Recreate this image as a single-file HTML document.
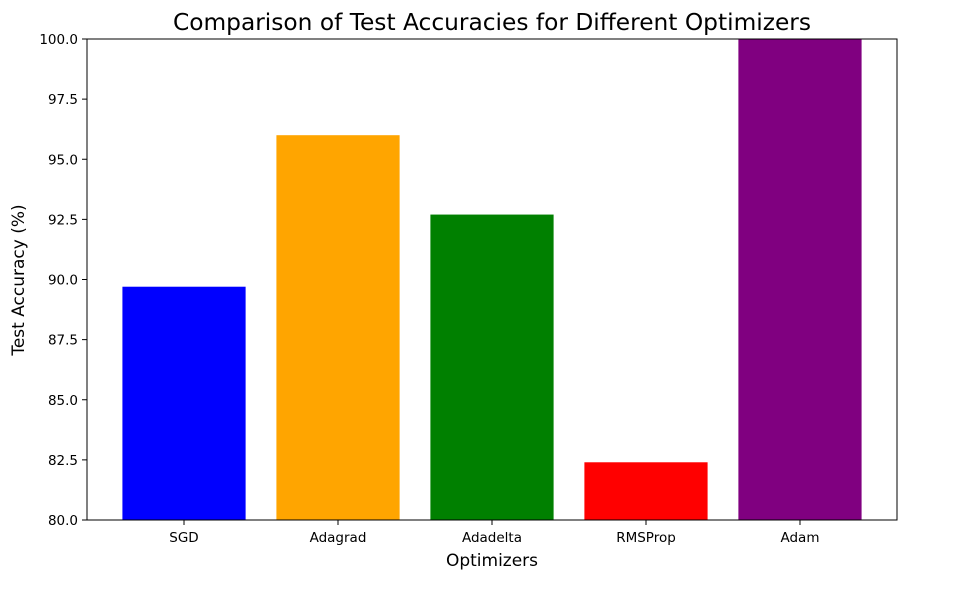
<!DOCTYPE html>
<html><head><meta charset="utf-8"><style>
body{margin:0;background:#fff;}
svg text{font-family:"DejaVu Sans","Liberation Sans",sans-serif;}
</style></head><body>
<svg id="chart" width="954" height="589" viewBox="0 0 954 589" xmlns="http://www.w3.org/2000/svg">
<text x="492" y="30" font-size="23.3" text-anchor="middle">Comparison of Test Accuracies for Different Optimizers</text>
<g id="bars"></g>
<g id="yticks"></g>
<g id="xticks"></g>
<rect x="87" y="39" width="810" height="481" fill="none" stroke="#000" stroke-width="1"/>
<text x="492" y="566" font-size="17" text-anchor="middle">Optimizers</text>
<text transform="translate(24,280) rotate(-90)" font-size="17" text-anchor="middle">Test Accuracy (%)</text>
</svg>
<script>
const categories = ["SGD","Adagrad","Adadelta","RMSProp","Adam"];
const values = [89.7, 96.0, 92.7, 82.4, 100.5];
const colors = ["#0000ff","#ffa500","#008000","#ff0000","#800080"];
const yTicks = [80.0, 82.5, 85.0, 87.5, 90.0, 92.5, 95.0, 97.5, 100.0];
const yMin = 80, yMax = 100;
const L = 87, R = 897, T = 39, B = 520;
const xMin = -0.63, xMax = 4.63;
const ns = "http://www.w3.org/2000/svg";
function xs(v){return L + (v - xMin) / (xMax - xMin) * (R - L);}
function ys(v){return B - (v - yMin) / (yMax - yMin) * (B - T);}
const bw = 0.8 * (R - L) / (xMax - xMin);
const bars = document.getElementById('bars');
categories.forEach((c, i) => {
  const r = document.createElementNS(ns, 'rect');
  const top = Math.max(T, ys(values[i]));
  r.setAttribute('x', xs(i) - bw / 2);
  r.setAttribute('y', top);
  r.setAttribute('width', bw);
  r.setAttribute('height', B - top);
  r.setAttribute('fill', colors[i]);
  
  
  bars.appendChild(r);
});
const yg = document.getElementById('yticks');
yTicks.forEach(t => {
  const y = ys(t);
  const l = document.createElementNS(ns, 'line');
  l.setAttribute('x1', L - 5); l.setAttribute('x2', L);
  l.setAttribute('y1', y); l.setAttribute('y2', y);
  l.setAttribute('stroke', '#000');
  
  
  yg.appendChild(l);
  const tx = document.createElementNS(ns, 'text');
  tx.setAttribute('x', L - 9); tx.setAttribute('y', y + 5);
  tx.setAttribute('font-size', '13.5'); tx.setAttribute('text-anchor', 'end');
  tx.textContent = t.toFixed(1);
  
  
  yg.appendChild(tx);
});
const xg = document.getElementById('xticks');
categories.forEach((c, i) => {
  const x = xs(i);
  const l = document.createElementNS(ns, 'line');
  l.setAttribute('x1', x); l.setAttribute('x2', x);
  l.setAttribute('y1', B); l.setAttribute('y2', B + 5);
  l.setAttribute('stroke', '#000');
  
  
  xg.appendChild(l);
  const tx = document.createElementNS(ns, 'text');
  tx.setAttribute('x', x); tx.setAttribute('y', B + 22);
  tx.setAttribute('font-size', '13.5'); tx.setAttribute('text-anchor', 'middle');
  tx.textContent = c;
  
  
  xg.appendChild(tx);
});
</script>
</body></html>
